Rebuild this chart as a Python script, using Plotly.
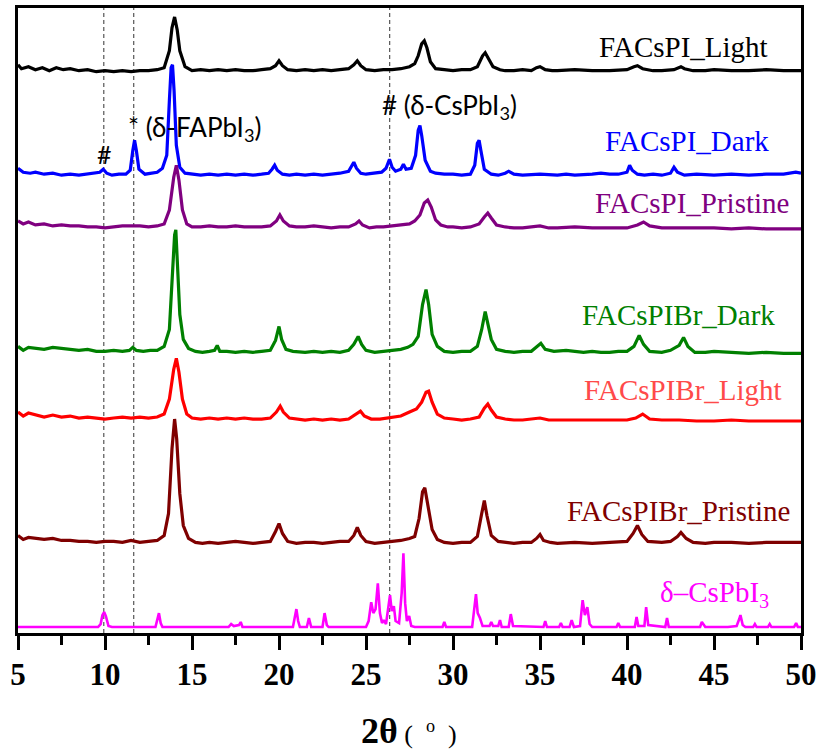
import plotly.graph_objects as go

# Stacked XRD patterns: (2theta, stacked intensity in a.u.)
facspi_light = [(5.0,571),(5.2,567),(5.6,569),(6.0,566),(6.4,568),(6.8,565),(7.2,568),(7.6,566),(8.0,567),(8.5,565),(9.0,566),(9.5,564),(10.0,565),(10.5,564),(11.0,565),(11.5,564),(12.0,565),(12.5,565),(13.0,566),(13.4,568),(13.7,585),(13.85,608),(14.0,619),(14.15,606),(14.3,585),(14.6,569),(15.0,565),(15.5,566),(16.0,565),(16.5,566),(17.0,565),(17.5,566),(18.0,565),(18.5,565),(19.0,566),(19.5,567),(19.8,570),(20.0,575),(20.2,570),(20.5,566),(21.0,565),(21.5,566),(22.0,565),(22.5,566),(23.0,565),(23.5,566),(24.0,567),(24.3,571),(24.5,575),(24.7,570),(25.0,566),(25.5,565),(26.0,566),(26.5,566),(27.0,567),(27.5,569),(27.8,572),(28.0,580),(28.2,592),(28.35,595),(28.5,588),(28.7,574),(29.0,567),(29.5,566),(30.0,565),(30.5,566),(31.0,566),(31.4,569),(31.7,580),(31.85,583),(32.0,578),(32.3,569),(32.7,566),(33.0,565),(33.5,565),(34.0,566),(34.5,565),(34.8,568),(35.0,569),(35.3,566),(35.7,565),(36.0,565),(37.0,566),(38.0,565),(39.0,565),(40.0,566),(40.4,569),(40.6,570),(40.9,567),(41.5,565),(42.0,565),(42.7,566),(43.1,569),(43.3,567),(43.8,565),(44.5,565),(45.0,566),(46.0,565),(47.0,565),(48.0,566),(49.0,565),(50.0,565)]

facspi_dark = [(5.0,467),(5.3,463),(5.7,462),(6.0,463),(6.5,461),(7.0,462),(7.5,460),(8.0,461),(8.5,460),(9.0,461),(9.4,462),(9.7,463),(9.9,466),(10.1,462),(10.4,460),(10.8,461),(11.2,461),(11.45,465),(11.6,485),(11.7,495),(11.8,485),(11.95,466),(12.3,461),(12.7,462),(13.0,463),(13.3,467),(13.55,480),(13.7,535),(13.8,568),(13.88,571),(13.97,545),(14.1,490),(14.3,468),(14.6,462),(15.0,461),(15.5,460),(16.0,461),(16.5,460),(17.0,461),(17.5,460),(18.0,461),(18.5,460),(19.0,461),(19.4,462),(19.6,466),(19.75,470),(19.9,465),(20.2,461),(20.6,460),(21.0,461),(21.5,460),(22.0,461),(22.5,460),(23.0,461),(23.5,462),(24.0,464),(24.2,470),(24.3,473),(24.45,467),(24.7,462),(25.0,461),(25.5,462),(25.9,463),(26.15,467),(26.35,476),(26.5,468),(26.7,464),(27.0,466),(27.15,471),(27.3,466),(27.6,467),(27.85,480),(28.0,505),(28.1,510),(28.2,500),(28.4,475),(28.7,464),(29.0,462),(29.5,461),(30.0,461),(30.5,460),(31.0,461),(31.25,470),(31.4,492),(31.5,495),(31.6,485),(31.8,466),(32.2,461),(32.6,460),(33.0,462),(33.2,464),(33.5,461),(34.0,460),(35.0,461),(36.0,460),(36.5,461),(37.0,460),(38.0,461),(38.5,462),(39.0,461),(39.5,461),(40.0,463),(40.15,470),(40.3,465),(40.6,461),(41.0,460),(41.5,461),(42.0,460),(42.5,462),(42.7,468),(42.9,463),(43.3,460),(44.0,461),(45.0,460),(46.0,461),(47.0,460),(48.0,461),(49.0,461),(49.7,463),(50.0,462)]

facspi_pristine = [(5.0,414),(5.3,411),(5.6,413),(6.0,410),(6.5,411),(7.0,409),(7.5,410),(8.0,409),(8.5,409),(9.0,408),(9.5,408),(10.0,407),(10.5,408),(11.0,409),(11.5,409),(12.0,409),(12.5,408),(13.0,409),(13.4,411),(13.7,425),(13.95,458),(14.1,470),(14.25,455),(14.45,425),(14.7,411),(15.0,408),(15.5,408),(16.0,409),(16.5,408),(17.0,408),(17.5,409),(18.0,408),(18.5,408),(19.0,408),(19.5,409),(19.85,414),(20.05,420),(20.25,414),(20.6,409),(21.0,408),(21.5,408),(22.0,409),(22.5,408),(23.0,407),(23.5,408),(24.0,408),(24.4,411),(24.6,414),(24.8,410),(25.2,407),(25.6,408),(26.0,408),(26.5,409),(27.0,410),(27.5,411),(27.8,414),(28.1,420),(28.35,432),(28.55,435),(28.75,428),(29.0,415),(29.3,410),(29.7,408),(30.0,408),(30.5,407),(31.0,408),(31.5,411),(31.8,418),(32.0,422),(32.2,417),(32.5,410),(33.0,408),(33.5,407),(34.0,407),(34.5,408),(35.0,409),(35.5,407),(36.0,407),(37.0,408),(38.0,407),(39.0,407),(40.0,407),(40.6,410),(40.95,413),(41.3,409),(42.0,407),(43.0,407),(44.0,407),(45.0,407),(46.0,406),(47.0,407),(48.0,406),(49.0,406),(50.0,406)]

facspibr_dark = [(5.0,288),(5.3,284),(5.6,287),(6.0,286),(6.5,285),(7.0,287),(7.5,286),(8.0,285),(8.5,284),(9.0,285),(9.5,283),(10.0,283),(10.5,284),(11.0,283),(11.4,284),(11.6,287),(11.8,284),(12.2,283),(12.6,284),(13.0,284),(13.4,288),(13.7,305),(13.9,360),(14.0,400),(14.07,405),(14.15,380),(14.3,320),(14.5,295),(14.8,286),(15.2,283),(15.6,282),(16.0,283),(16.3,284),(16.45,289),(16.6,283),(17.0,283),(17.5,282),(18.0,283),(18.5,282),(19.0,283),(19.5,284),(19.8,294),(20.0,308),(20.15,295),(20.4,285),(20.8,283),(21.5,282),(22.0,283),(22.5,282),(23.0,283),(23.5,282),(24.0,284),(24.3,290),(24.55,298),(24.75,290),(25.0,284),(25.5,282),(26.0,283),(26.5,284),(27.0,285),(27.4,287),(27.7,290),(28.0,298),(28.25,330),(28.45,345),(28.6,330),(28.8,300),(29.1,288),(29.5,283),(30.0,282),(30.5,283),(31.0,283),(31.4,288),(31.65,305),(31.85,323),(32.0,312),(32.2,295),(32.5,285),(33.0,283),(33.5,282),(34.0,283),(34.5,283),(34.8,287),(35.05,291),(35.3,285),(35.8,283),(36.5,284),(37.0,283),(37.5,282),(38.0,283),(38.5,282),(39.0,282),(39.5,283),(40.0,283),(40.4,288),(40.7,299),(40.95,290),(41.3,283),(42.0,282),(42.5,284),(43.0,289),(43.25,297),(43.5,288),(43.9,282),(44.5,282),(45.0,283),(46.0,282),(47.0,281),(48.0,282),(49.0,281),(50.0,281)]

facspibr_light = [(5.0,222),(5.3,218),(5.6,221),(6.0,219),(6.5,217),(7.0,219),(7.5,217),(8.0,218),(8.5,216),(9.0,217),(9.5,216),(10.0,215),(10.5,216),(11.0,217),(11.5,216),(12.0,217),(12.5,216),(13.0,217),(13.4,220),(13.7,235),(13.95,265),(14.1,276),(14.25,262),(14.45,235),(14.7,220),(15.0,216),(15.5,215),(16.0,216),(16.5,215),(17.0,216),(17.5,215),(18.0,216),(18.5,215),(19.0,215),(19.5,216),(19.85,222),(20.07,228),(20.25,222),(20.6,216),(21.0,215),(21.5,214),(22.0,215),(22.5,214),(23.0,215),(23.5,214),(24.0,215),(24.45,220),(24.68,223),(24.9,218),(25.3,215),(25.8,215),(26.2,216),(26.6,217),(27.0,218),(27.5,222),(27.9,225),(28.2,232),(28.45,242),(28.6,243),(28.8,232),(29.1,220),(29.5,216),(30.0,215),(30.5,214),(31.0,215),(31.5,217),(31.8,226),(32.0,230),(32.2,224),(32.5,217),(33.0,215),(33.5,214),(34.0,214),(34.5,215),(35.0,216),(35.5,214),(36.0,214),(37.0,214),(38.0,214),(39.0,214),(40.0,214),(40.5,216),(40.9,220),(41.3,215),(42.0,214),(43.0,214),(44.0,213),(45.0,213),(46.0,214),(47.0,213),(48.0,213),(49.0,213),(50.0,213)]

facspibr_pristine = [(5.0,98),(5.3,94),(5.6,96),(6.0,95),(6.5,94),(7.0,95),(7.5,93),(8.0,93),(8.5,92),(9.0,92),(9.5,91),(10.0,92),(10.5,92),(11.0,91),(11.5,93),(12.0,91),(12.5,92),(13.0,93),(13.4,98),(13.65,120),(13.85,185),(14.0,215),(14.12,195),(14.3,140),(14.5,108),(14.8,95),(15.2,91),(15.6,90),(16.0,91),(16.5,90),(17.0,91),(17.5,92),(18.0,91),(18.5,90),(19.0,91),(19.5,92),(19.8,102),(20.0,110),(20.2,100),(20.5,92),(21.0,90),(21.5,91),(22.0,91),(22.5,90),(23.0,91),(23.5,92),(24.0,92),(24.3,98),(24.5,106),(24.7,98),(25.0,92),(25.5,90),(26.0,91),(26.5,92),(27.0,93),(27.5,95),(27.8,97),(28.05,115),(28.25,142),(28.38,146),(28.55,128),(28.8,104),(29.1,94),(29.5,91),(30.0,90),(30.5,91),(31.0,91),(31.4,97),(31.65,120),(31.8,133),(31.95,118),(32.2,98),(32.6,92),(33.0,91),(33.5,90),(34.0,91),(34.5,91),(34.8,95),(35.0,99),(35.2,93),(35.6,91),(36.0,90),(37.0,91),(38.0,90),(39.0,91),(39.5,91),(40.0,92),(40.35,100),(40.6,108),(40.85,99),(41.2,92),(42.0,91),(42.5,92),(42.9,97),(43.1,101),(43.4,95),(43.8,91),(44.5,90),(45.0,91),(46.0,91),(47.0,90),(48.0,91),(49.0,91),(50.0,91)]

delta_cspbi3 = [(5.0,6),(9.6,6),(9.75,9),(9.85,18),(9.95,21),(10.05,17),(10.2,7),(10.4,6),(12.9,6),(13.0,12),(13.1,20),(13.2,10),(13.3,6),(17.1,6),(17.25,9),(17.4,7),(17.7,8),(17.8,11),(17.9,6),(20.8,6),(20.9,14),(21.0,24),(21.1,12),(21.2,6),(21.6,6),(21.72,15),(21.85,6),(22.5,6),(22.62,20),(22.75,8),(22.85,6),(25.0,6),(25.15,12),(25.3,31),(25.42,20),(25.55,24),(25.68,50),(25.8,20),(25.92,10),(26.02,13),(26.15,9),(26.3,30),(26.38,38),(26.48,22),(26.6,27),(26.7,12),(26.9,10),(27.05,40),(27.15,80),(27.25,30),(27.35,12),(27.48,17),(27.6,7),(27.8,6),(29.4,6),(29.5,11),(29.6,6),(31.1,6),(31.2,20),(31.32,39),(31.42,20),(31.55,15),(31.7,7),(32.1,7),(32.2,11),(32.3,7),(32.6,7),(32.7,13),(32.8,6),(33.2,6),(33.32,19),(33.45,7),(35.2,6),(35.3,12),(35.4,6),(36.1,6),(36.2,10),(36.3,6),(36.7,6),(36.82,13),(36.95,6),(37.3,7),(37.45,33),(37.58,18),(37.72,26),(37.85,9),(38.0,6),(39.4,6),(39.5,10),(39.6,6),(40.45,6),(40.55,16),(40.65,7),(41.0,7),(41.1,26),(41.22,8),(42.2,6),(42.3,15),(42.4,6),(44.2,6),(44.3,11),(44.4,9),(44.5,6),(45.8,6),(46.3,7),(46.45,14),(46.52,18),(46.65,8),(46.8,6),(47.25,6),(47.35,9),(47.45,6),(48.1,6),(48.2,9),(48.3,6),(49.6,6),(49.72,10),(49.82,6),(50.0,6)]

series_names = ["FACsPI_Light", "FACsPI_Dark", "FACsPI_Pristine", "FACsPIBr_Dark",
                "FACsPIBr_Light", "FACsPIBr_Pristine", "δ–CsPbI<sub>3</sub>"]
series_data = [facspi_light, facspi_dark, facspi_pristine, facspibr_dark,
               facspibr_light, facspibr_pristine, delta_cspbi3]
series_colors = ["#000000", "#0000ff", "#800080", "#008000", "#ff0000", "#7f0000", "#ff00ff"]
label_colors = ["#000000", "#0000ff", "#800080", "#008000", "#ff4a4a", "#7f0000", "#ff00ff"]

marker_lines = [9.93, 11.65, 26.36]
x_ticks = [5, 10, 15, 20, 25, 30, 35, 40, 45, 50]

fig = go.Figure()
for name, pts, col in zip(series_names, series_data, series_colors):
    xs = [p[0] for p in pts]
    ys = [p[1] for p in pts]
    fig.add_trace(go.Scatter(x=xs, y=ys, mode="lines", name=name,
                             line=dict(color=col, width=3.2 if col != "#ff00ff" else 2.6),
                             showlegend=False))

for xv in marker_lines:
    fig.add_shape(type="line", x0=xv, x1=xv, y0=0, y1=1, xref="x", yref="paper",
                  line=dict(color="#555555", width=1.2, dash="4px,3px"), layer="below")

serif = "Liberation Serif"
# series labels: (right-edge x in data units, y centre in data units)
label_pos = [(48.2, 589), (48.3, 494), (49.4, 432), (48.6, 320), (49.0, 244), (49.5, 123), (48.3, 39)]
for (lx, ly), txt, col in zip(label_pos, series_names, label_colors):
    fig.add_annotation(x=lx, y=ly, xref="x", yref="y", text=txt, showarrow=False,
                       xanchor="right", yanchor="middle",
                       font=dict(family=serif, size=29, color=col))

sans = "Lato"
fig.add_annotation(x=9.95, y=481, xref="x", yref="y", text="#", showarrow=False,
                   xanchor="center", yanchor="middle", font=dict(family=sans, size=25, color="black"))
fig.add_annotation(x=11.2, y=507, xref="x", yref="y", text="* (δ-FAPbI<sub>3</sub>)", showarrow=False,
                   xanchor="left", yanchor="middle", font=dict(family=sans, size=26, color="black"))
fig.add_annotation(x=25.8, y=529, xref="x", yref="y", text="# (δ-CsPbI<sub>3</sub>)", showarrow=False,
                   xanchor="left", yanchor="middle", font=dict(family=sans, size=26, color="black"))

fig.add_annotation(x=0.499, y=-0.156, xref="paper", yref="paper",
                   text="<b>2θ</b><span style='font-size:26px'> (  <sup>o</sup>  )</span>",
                   showarrow=False, xanchor="center", yanchor="middle",
                   font=dict(family=serif, size=36, color="black"))

fig.update_xaxes(range=[5, 50], tickvals=x_ticks, ticks="outside", ticklen=14, tickwidth=3,
                 tickcolor="black", showline=True, linewidth=3, linecolor="black", mirror=True,
                 showgrid=False, zeroline=False, ticklabelstandoff=-2,
                 tickfont=dict(family=serif, size=31, color="black", weight="bold"),
                 minor=dict(dtick=2.5, tick0=5, ticks="outside", ticklen=9, tickwidth=3, tickcolor="black"))
fig.update_yaxes(range=[0, 628], showticklabels=False, ticks="", showline=True, linewidth=3,
                 linecolor="black", mirror=True, showgrid=False, zeroline=False)

fig.update_layout(width=822, height=752, margin=dict(l=18, r=21, t=5, b=119),
                  plot_bgcolor="white", paper_bgcolor="white")

fig.write_html("out.html", config={"displayModeBar": False},
               post_script="document.body.style.margin='0';document.body.style.overflow='hidden';")
